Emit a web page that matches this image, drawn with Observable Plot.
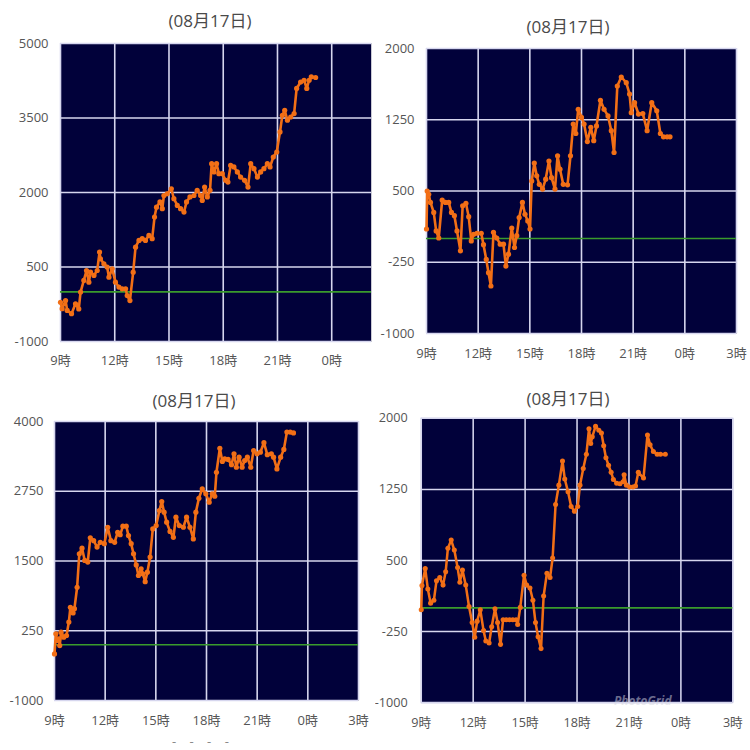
<!DOCTYPE html>
<html>
<head>
<meta charset="utf-8">
<script src="https://cdn.jsdelivr.net/npm/d3@7"></script>
<script src="https://cdn.jsdelivr.net/npm/@observablehq/plot@0.6"></script>
<style>
  html, body { margin: 0; padding: 0; background: #ffffff; }
  body { width: 750px; height: 750px; position: relative; overflow: hidden;
         font-family: "Open Sans", "Noto Sans CJK JP", sans-serif; }
  .panel { position: absolute; overflow: hidden; }
  .title { position: absolute; transform: translate(-50%, -50%); font-size: 17px; color: #4a4a4a; white-space: nowrap; }
  .note { position: absolute; white-space: nowrap; }
</style>
</head>
<body>
<script>
// ---- shared tick labels ----
const xTickHours = [9, 12, 15, 18, 21, 24, 27];
const xTickLabels = ["9時", "12時", "15時", "18時", "21時", "0時", "3時"];
const titleText = "(08月17日)";

// ---- panel 1 (top-left) ----
const p1YTicks = [-1000, 500, 2000, 3500, 5000];
const p1Hours = [9.00,9.09,9.28,9.37,9.61,9.83,10.01,10.11,10.29,10.44,10.57,10.66,10.85,11.03,11.16,11.21,11.40,11.58,11.68,11.86,12.04,12.23,12.41,12.60,12.69,12.84,13.02,13.15,13.34,13.52,13.70,13.89,14.07,14.20,14.31,14.50,14.63,14.72,14.90,15.13,15.27,15.46,15.64,15.83,15.97,16.16,16.38,16.56,16.75,16.84,16.97,17.12,17.27,17.36,17.49,17.63,17.76,17.95,18.13,18.26,18.41,18.59,18.78,18.96,19.18,19.37,19.52,19.70,19.89,20.07,20.25,20.44,20.59,20.77,20.96,21.14,21.27,21.40,21.55,21.73,21.92,22.06,22.28,22.47,22.62,22.75,22.87,23.11];
const p1Values = [-210,-340,-175,-375,-440,-240,-345,-5,230,430,195,395,330,430,800,665,565,500,295,465,195,95,60,60,-75,-175,395,900,1035,1070,1035,1135,1070,1505,1705,1810,1675,1940,1975,2075,1875,1740,1675,1605,1810,1910,1940,2045,1940,1840,2110,1910,2045,2580,2415,2580,2380,2380,2245,2210,2545,2515,2415,2310,2245,2110,2580,2480,2310,2415,2480,2580,2515,2715,2815,3220,3555,3655,3455,3520,3590,4095,4225,4260,4095,4260,4330,4315];

// ---- panel 2 (top-right) ----
const p2YTicks = [-1000, -250, 500, 1250, 2000];
const p2Hours = [9.00,9.04,9.13,9.23,9.42,9.56,9.71,9.91,10.10,10.29,10.45,10.62,10.77,10.97,11.10,11.29,11.45,11.60,11.74,11.93,12.18,12.31,12.47,12.60,12.74,12.89,13.08,13.28,13.47,13.61,13.76,13.95,14.11,14.24,14.38,14.57,14.72,14.88,15.01,15.11,15.26,15.40,15.55,15.74,15.92,16.11,16.26,16.46,16.61,16.75,16.94,17.19,17.36,17.52,17.67,17.81,18.00,18.15,18.34,18.54,18.71,18.87,19.10,19.31,19.54,19.73,19.89,20.08,20.31,20.60,20.79,20.89,21.08,21.31,21.56,21.81,22.08,22.37,22.58,22.76,22.97,23.14];
const p2Values = [100,500,465,380,275,80,5,405,380,380,275,240,80,-130,345,370,230,-25,45,55,55,-65,-220,-360,-500,65,5,-60,-60,-290,-165,110,-95,30,220,380,255,185,100,605,795,660,570,520,625,815,640,520,870,730,570,565,870,1205,1105,1360,1275,1205,1020,1170,1030,1185,1455,1360,1290,1135,905,1605,1700,1640,1520,1325,1430,1310,1315,1135,1430,1345,1105,1070,1070,1070];

// ---- panel 3 (bottom-left) ----
const p3YTicks = [-1000, 250, 1500, 2750, 4000];
const p3Hours = [9.00,9.08,9.16,9.26,9.31,9.39,9.55,9.71,9.85,9.94,10.10,10.18,10.34,10.47,10.63,10.79,10.97,11.12,11.32,11.52,11.71,11.95,12.15,12.34,12.56,12.74,12.89,13.05,13.25,13.38,13.54,13.68,13.84,13.97,14.13,14.23,14.37,14.50,14.66,14.82,15.02,15.21,15.35,15.49,15.64,15.84,16.04,16.19,16.39,16.63,16.82,17.02,17.22,17.37,17.55,17.75,17.96,18.16,18.34,18.49,18.59,18.79,18.94,19.08,19.28,19.48,19.63,19.77,19.93,20.11,20.26,20.42,20.62,20.79,20.99,21.19,21.40,21.60,21.84,21.97,22.17,22.39,22.58,22.76,22.96,23.15];
const p3Values = [-165,195,75,105,-15,225,135,165,405,670,570,645,1030,1630,1730,1510,1480,1915,1865,1750,1835,1810,2105,1865,1835,2015,1970,2125,2125,1955,1810,1630,1430,1240,1360,1270,1130,1300,1570,2075,2135,2405,2565,2375,2195,2030,1925,2285,2135,2105,2285,2105,1895,2375,2625,2795,2705,2555,2705,2660,3090,3520,3285,3330,3320,3225,3420,3180,3360,3180,3300,3360,3180,3480,3420,3450,3620,3405,3420,3360,3150,3360,3500,3810,3810,3795];

// ---- panel 4 (bottom-right) ----
const p4YTicks = [-1000, -250, 500, 1250, 2000];
const p4Hours = [9.00,9.04,9.23,9.38,9.54,9.73,9.88,10.07,10.26,10.41,10.54,10.73,10.91,11.10,11.23,11.38,11.57,11.76,11.94,12.09,12.23,12.41,12.60,12.73,12.92,13.07,13.26,13.41,13.58,13.73,13.91,14.10,14.29,14.48,14.57,14.72,14.94,15.09,15.28,15.45,15.60,15.75,15.92,16.07,16.26,16.44,16.59,16.76,16.95,17.16,17.29,17.48,17.66,17.85,18.04,18.17,18.36,18.54,18.69,18.79,18.88,19.07,19.26,19.41,19.54,19.67,19.82,19.97,20.10,20.29,20.48,20.66,20.72,20.85,21.04,21.23,21.38,21.54,21.84,22.07,22.22,22.41,22.63,22.82,23.10];
const p4Values = [-20,235,415,200,50,80,285,320,240,380,630,715,610,425,270,400,240,15,-155,-310,-140,-20,-240,-350,-370,-200,-10,-155,-385,-125,-125,-125,-125,-125,-175,5,345,240,210,80,-155,-305,-430,125,365,320,525,1090,1295,1550,1360,1225,1070,1020,1070,1295,1470,1620,1890,1735,1805,1915,1875,1845,1710,1585,1505,1430,1355,1315,1310,1330,1405,1295,1275,1275,1285,1430,1370,1825,1720,1650,1620,1620,1620];

// ---- styles ----
const navy = "#01013a";
const orange = "#f26f16";
const gridColor = "#d6d6ee";
const green = "#3a9b2c";

function makePanel(cfg) {
  const data = cfg.hours.map((h, i) => ({h, v: cfg.values[i]}));
  const labelOf = new Map(xTickHours.map((h, i) => [h, xTickLabels[i]]));
  const xt = xTickHours.filter(h => h >= cfg.xDomain[0] && h <= cfg.xDomain[1]);
  return Plot.plot({
    width: cfg.width, height: cfg.height,
    marginLeft: cfg.ml, marginRight: cfg.mr, marginTop: cfg.mt, marginBottom: cfg.mb,
    style: {background: "transparent", fontFamily: '"Open Sans", "Noto Sans CJK JP", sans-serif', fontSize: "13px", color: "#555", overflow: "visible"},
    x: {domain: cfg.xDomain, label: null},
    y: {domain: [cfg.yTicks[0], cfg.yTicks[cfg.yTicks.length - 1]], label: null},
    marks: [
      Plot.frame({fill: navy, stroke: "#c9c9d4", strokeWidth: 1}),
      Plot.gridX(xt, {stroke: gridColor, strokeOpacity: 1, strokeWidth: 1.6}),
      Plot.gridY(cfg.yTicks, {stroke: gridColor, strokeOpacity: 1, strokeWidth: 1.6}),
      Plot.ruleY([0], {stroke: green, strokeWidth: 1.6}),
      Plot.line(data, {x: "h", y: "v", stroke: orange, strokeWidth: 2.6, curve: "linear"}),
      Plot.dot(data, {x: "h", y: "v", fill: orange, r: 2.6}),
      Plot.axisX(xt, {tickSize: 0, tickPadding: cfg.xPad, tickFormat: d => labelOf.get(d), fontSize: 13, label: null}),
      Plot.axisY(cfg.yTicks, {tickSize: 0, tickPadding: cfg.yPad, tickFormat: d => String(d), fontSize: 13, label: null})
    ]
  });
}

function addPanel(left, top, clipW, cfg, title) {
  const div = document.createElement("div");
  div.className = "panel";
  div.style.left = left + "px"; div.style.top = top + "px";
  div.style.width = clipW + "px"; div.style.height = "375px";
  div.appendChild(makePanel(cfg));
  document.body.appendChild(div);
  const t = document.createElement("div");
  t.className = "title";
  t.textContent = titleText;
  t.style.left = title[0] + "px"; t.style.top = title[1] + "px";
  document.body.appendChild(t);
}

addPanel(0, 0, 372, {hours: p1Hours, values: p1Values, yTicks: p1YTicks, xDomain: [9, 26.2],
  width: 372, height: 375, ml: 60, mr: 1, mt: 43, mb: 34, xPad: 14, yPad: 12}, [210, 19]);
addPanel(375, 0, 375, {hours: p2Hours, values: p2Values, yTicks: p2YTicks, xDomain: [9, 27],
  width: 375, height: 375, ml: 51, mr: 14, mt: 48, mb: 42, xPad: 15, yPad: 12}, [568, 25]);
addPanel(0, 375, 375, {hours: p3Hours, values: p3Values, yTicks: p3YTicks, xDomain: [9, 27],
  width: 375, height: 375, ml: 54, mr: 17, mt: 46, mb: 50, xPad: 15, yPad: 11}, [194, 399]);
addPanel(375, 375, 370, {hours: p4Hours, values: p4Values, yTicks: p4YTicks, xDomain: [9, 27],
  width: 380, height: 375, ml: 47, mr: 13, mt: 44, mb: 39, xPad: 16, yPad: 14}, [568, 397]);

// small marks from the photo collage
const dashes = document.createElement("div");
dashes.className = "note";
dashes.textContent = "- - - -";
dashes.style.cssText += "left:172px;top:732px;font-size:13px;color:#8a8a8a;letter-spacing:5px;";
document.body.appendChild(dashes);
const wm = document.createElement("div");
wm.className = "note";
wm.textContent = "PhotoGrid";
wm.style.cssText += "left:614px;top:695px;font-size:12px;line-height:12px;font-style:italic;font-weight:bold;color:rgba(215,215,225,0.5);";
document.body.appendChild(wm);
</script>
</body>
</html>
